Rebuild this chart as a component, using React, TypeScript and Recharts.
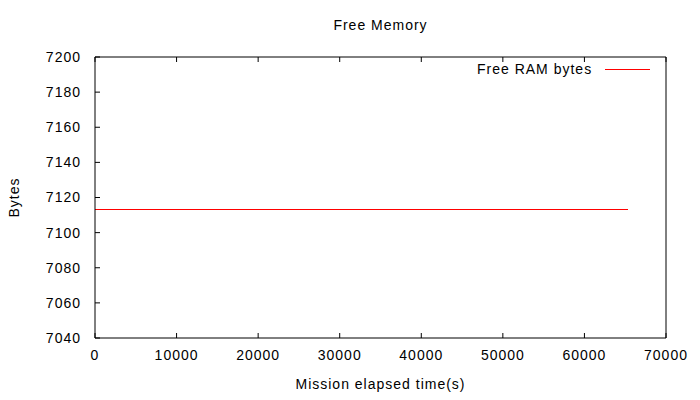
import { Label, Line, LineChart, XAxis, YAxis } from 'recharts';

const TIME = [0, 16000, 32000, 48000, 65300];
const FREE_RAM = [7113, 7113, 7113, 7113, 7113];
const X_TICKS = [0, 10000, 20000, 30000, 40000, 50000, 60000, 70000];
const Y_TICKS = [7040, 7060, 7080, 7100, 7120, 7140, 7160, 7180, 7200];

const data = TIME.map((t, i) => ({ t, ram: FREE_RAM[i] }));

const FONT = '"Liberation Sans", Arial, sans-serif';
const tickStyle = { fontSize: 14, fill: '#000', fontFamily: FONT, letterSpacing: 1 };
const blank = () => '';

export default function App() {
  return (
    <div style={{ position: 'absolute', left: 0, top: 0, width: 700, height: 400, background: '#fff' }}>
      <div
        style={{
          position: 'absolute',
          top: 17,
          left: 95,
          width: 571,
          textAlign: 'center',
          fontFamily: FONT,
          fontSize: 14,
          letterSpacing: 1,
        }}
      >
        Free Memory
      </div>
      {/* legend, gnuplot style: text then a line sample */}
      <div
        style={{
          position: 'absolute',
          top: 61,
          left: 477,
          display: 'flex',
          alignItems: 'center',
          fontFamily: FONT,
          fontSize: 14,
          letterSpacing: 1,
          zIndex: 1,
        }}
      >
        <span>Free RAM bytes</span>
        <span style={{ display: 'inline-block', width: 45, height: 1, background: '#ff0000', marginLeft: 13 }} />
      </div>
      <LineChart width={700} height={400} data={data} margin={{ top: 0, right: 0, bottom: 0, left: 0 }}>
        <XAxis
          dataKey="t"
          type="number"
          domain={[0, 70000]}
          ticks={X_TICKS}
          height={62}
          tickSize={-5}
          tickMargin={17}
          tick={tickStyle}
          stroke="#000"
        >
          <Label value="Mission elapsed time(s)" position="insideBottom" offset={11} style={{ ...tickStyle }} />
        </XAxis>
        <XAxis
          xAxisId="top"
          orientation="top"
          dataKey="t"
          type="number"
          domain={[0, 70000]}
          ticks={X_TICKS}
          height={57}
          tickSize={-5}
          tickFormatter={blank}
          stroke="#000"
        />
        <YAxis
          type="number"
          domain={[7040, 7200]}
          ticks={Y_TICKS}
          width={95}
          tickSize={-5}
          tickMargin={19}
          tick={tickStyle}
          stroke="#000"
        >
          <Label value="Bytes" angle={-90} position="insideLeft" offset={14} style={{ ...tickStyle, textAnchor: 'middle' }} />
        </YAxis>
        <YAxis
          yAxisId="right"
          orientation="right"
          type="number"
          domain={[7040, 7200]}
          ticks={Y_TICKS}
          width={34}
          tickSize={-5}
          tickFormatter={blank}
          stroke="#000"
        />
        <Line
          dataKey="ram"
          stroke="#ff0000"
          strokeWidth={1}
          shapeRendering="crispEdges"
          dot={false}
          isAnimationActive={false}
        />
      </LineChart>
    </div>
  );
}
